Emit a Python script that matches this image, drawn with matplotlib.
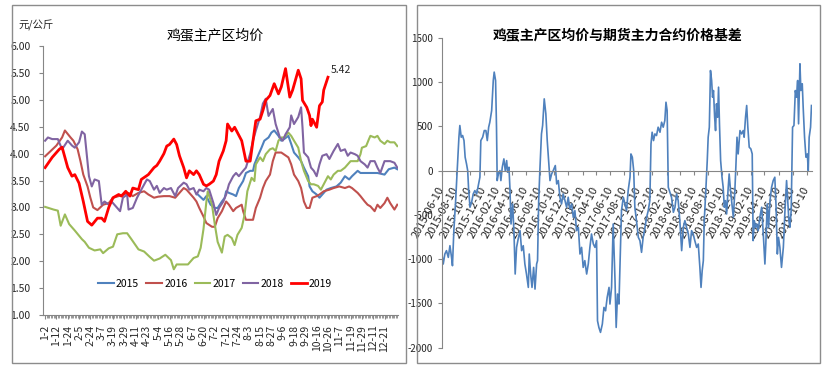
#!/usr/bin/env python3
"""
鸡蛋主产区均价 / 期现基差 两图
"""
import matplotlib
matplotlib.use("Agg")
import matplotlib.pyplot as plt
from matplotlib.patches import Rectangle
import pandas as pd

plt.rcParams['font.family'] = ['Liberation Sans Narrow', 'Noto Sans CJK SC', 'DejaVu Sans']
CJK = ['Noto Sans CJK SC', 'DejaVu Sans']

# ---------------- 左图: 各年份主产区均价 (元/公斤) ----------------
# 横轴为当年第几个交易日
day_labels = ['1-2', '1-12', '1-24', '2-5', '2-24', '3-7', '3-19', '3-29', '4-11',
              '4-23', '5-4', '5-16', '5-28', '6-7', '6-20', '7-2', '7-12', '7-24',
              '8-3', '8-15', '8-27', '9-6', '9-18', '9-29', '10-16', '10-26',
              '11-7', '11-19', '11-29', '12-11', '12-21']

idx_2015 = [108, 112, 114, 117, 120, 122, 125, 127, 128, 130, 133, 135, 137, 140, 142,
            145, 147, 148, 151, 153, 155, 158, 160, 162, 165, 167, 169, 172, 174, 176,
            179, 181, 183, 186, 187, 189, 192, 194, 196, 199, 202, 206, 209, 212, 215,
            217, 221, 223, 227, 230, 235, 240, 243, 247, 249]
val_2015 = [3.24, 3.14, 3.21, 3.05, 2.99, 2.99, 3.11, 3.18, 3.30, 3.27, 3.24, 3.21, 3.36,
            3.49, 3.64, 3.68, 3.68, 3.80, 3.99, 4.11, 4.24, 4.30, 4.39, 4.43, 4.33, 4.24,
            4.27, 4.33, 4.18, 4.02, 3.93, 3.86, 3.74, 3.58, 3.39, 3.30, 3.24, 3.18, 3.24,
            3.33, 3.36, 3.39, 3.46, 3.58, 3.52, 3.58, 3.68, 3.64, 3.64, 3.64, 3.64, 3.61,
            3.71, 3.74, 3.71]

idx_2016 = [0, 4, 8, 12, 14, 18, 20, 23, 25, 27, 30, 32, 34, 37, 39, 41, 45, 48, 52, 55,
            59, 62, 66, 70, 73, 77, 80, 84, 88, 92, 95, 98, 100, 102, 105, 107, 109, 112,
            114, 118, 120, 122, 125, 128, 130, 133, 135, 139, 140, 142, 145, 147, 149, 152,
            154, 156, 159, 161, 163, 167, 172, 174, 176, 179, 181, 183, 185, 187, 189, 192,
            194, 197, 201, 204, 208, 212, 215, 217, 221, 223, 226, 228, 230, 233, 235, 237,
            240, 242, 244, 247, 249]
val_2016 = [3.95, 4.05, 4.15, 4.30, 4.43, 4.30, 4.24, 4.08, 3.86, 3.61, 3.39, 3.18, 3.00,
            2.95, 3.00, 3.05, 3.08, 3.18, 3.21, 3.24, 3.27, 3.21, 3.27, 3.30, 3.24, 3.18,
            3.20, 3.21, 3.21, 3.18, 3.27, 3.36, 3.33, 3.27, 3.18, 3.11, 2.99, 2.83, 2.71,
            2.64, 2.64, 2.80, 2.93, 3.11, 3.05, 2.93, 2.99, 3.05, 2.93, 2.77, 2.77, 2.77,
            2.99, 3.18, 3.36, 3.49, 3.61, 3.86, 4.02, 4.02, 3.93, 3.80, 3.61, 3.49, 3.36,
            3.11, 2.99, 2.99, 3.18, 3.21, 3.24, 3.30, 3.33, 3.36, 3.39, 3.36, 3.39, 3.36,
            3.27, 3.21, 3.11, 3.05, 3.02, 2.93, 3.05, 2.99, 3.08, 3.18, 3.08, 2.96, 3.05]

idx_2017 = [0, 6, 9, 11, 14, 17, 21, 26, 28, 31, 35, 39, 41, 45, 48, 51, 55, 58, 61, 66,
            70, 74, 77, 81, 85, 89, 91, 93, 101, 105, 108, 110, 112, 114, 115, 118, 120,
            122, 125, 127, 129, 132, 134, 136, 139, 141, 143, 146, 148, 149, 152, 154, 156,
            159, 161, 163, 165, 167, 169, 172, 174, 176, 179, 181, 183, 186, 188, 190, 193,
            195, 197, 200, 202, 204, 207, 209, 212, 214, 216, 221, 223, 224, 227, 229, 230,
            233, 235, 237, 240, 242, 244, 247, 249]
val_2017 = [3.01, 2.96, 2.94, 2.66, 2.87, 2.69, 2.57, 2.41, 2.36, 2.25, 2.20, 2.22, 2.15,
            2.24, 2.27, 2.50, 2.52, 2.52, 2.41, 2.22, 2.18, 2.08, 2.01, 2.05, 2.12, 2.02,
            1.85, 1.94, 1.94, 2.06, 2.09, 2.25, 2.60, 3.10, 3.30, 3.05, 2.68, 2.36, 2.16,
            2.46, 2.49, 2.43, 2.30, 2.49, 2.62, 2.86, 3.30, 3.55, 3.49, 3.80, 3.93, 3.86,
            3.99, 4.08, 4.10, 4.05, 4.24, 4.30, 4.30, 4.39, 4.33, 4.24, 4.11, 3.86, 3.68,
            3.49, 3.43, 3.43, 3.40, 3.33, 3.43, 3.58, 3.52, 3.61, 3.68, 3.68, 3.74, 3.80,
            3.86, 3.86, 3.99, 4.11, 4.14, 4.27, 4.33, 4.30, 4.33, 4.24, 4.18, 4.24, 4.21,
            4.21, 4.14]

idx_2018 = [0, 2, 5, 9, 12, 16, 19, 21, 24, 26, 28, 31, 33, 35, 38, 40, 42, 45, 47, 51,
            53, 55, 58, 59, 62, 65, 68, 72, 74, 77, 79, 81, 84, 86, 89, 92, 94, 98, 100,
            102, 105, 107, 109, 112, 114, 116, 119, 121, 123, 126, 128, 130, 133, 135, 137,
            140, 142, 145, 147, 149, 152, 154, 156, 158, 161, 163, 166, 168, 170, 173, 174,
            176, 179, 181, 182, 183, 186, 188, 190, 192, 194, 196, 199, 201, 204, 207, 209,
            212, 214, 216, 219, 221, 223, 226, 228, 230, 233, 235, 237, 240, 244, 247, 249]
val_2018 = [4.24, 4.30, 4.27, 4.27, 4.08, 4.24, 4.15, 4.11, 4.21, 4.41, 4.36, 3.58, 3.39,
            3.52, 3.49, 3.05, 3.11, 3.05, 3.11, 2.99, 2.93, 3.18, 3.24, 2.96, 2.99, 3.18,
            3.33, 3.52, 3.49, 3.33, 3.40, 3.27, 3.36, 3.33, 3.36, 3.21, 3.36, 3.46, 3.43,
            3.33, 3.36, 3.24, 3.33, 3.30, 3.36, 3.33, 3.08, 2.86, 2.99, 3.11, 3.24, 3.43,
            3.58, 3.64, 3.58, 3.68, 3.74, 4.00, 4.24, 4.43, 4.68, 4.93, 5.02, 4.70, 4.83,
            4.55, 4.30, 4.24, 4.36, 4.49, 4.71, 4.55, 4.68, 4.86, 4.49, 4.02, 3.93, 3.74,
            3.68, 3.58, 3.80, 3.96, 3.99, 3.90, 4.05, 4.18, 4.05, 4.08, 3.96, 4.02, 3.99,
            3.96, 3.86, 3.80, 3.74, 3.86, 3.86, 3.74, 3.64, 3.86, 3.86, 3.83, 3.74]

idx_2019 = [0, 5, 10, 12, 16, 19, 21, 24, 27, 30, 33, 37, 40, 42, 45, 48, 52, 54, 57, 60,
            62, 66, 68, 73, 77, 79, 81, 84, 86, 88, 91, 93, 95, 98, 100, 102, 105, 107, 109,
            112, 114, 116, 119, 121, 123, 126, 128, 129, 132, 134, 136, 139, 141, 142, 145,
            147, 149, 152, 154, 156, 159, 162, 165, 167, 170, 173, 175, 179, 181, 182, 185,
            187, 188, 189, 192, 194, 196, 197, 200]
val_2019 = [3.74, 3.93, 4.08, 4.12, 3.74, 3.58, 3.61, 3.45, 3.11, 2.74, 2.67, 2.80, 2.80,
            2.74, 3.00, 3.18, 3.24, 3.21, 3.30, 3.21, 3.36, 3.33, 3.52, 3.61, 3.74, 3.78,
            3.86, 4.00, 4.14, 4.17, 4.27, 4.17, 3.96, 3.74, 3.55, 3.68, 3.61, 3.68, 3.61,
            3.43, 3.40, 3.43, 3.49, 3.61, 3.86, 4.05, 4.24, 4.55, 4.42, 4.49, 4.39, 4.24,
            3.99, 3.86, 3.86, 4.24, 4.61, 4.64, 4.80, 4.99, 5.08, 5.30, 5.11, 5.24, 5.58,
            5.05, 5.18, 5.55, 5.39, 4.99, 4.86, 4.71, 4.52, 4.64, 4.49, 4.89, 4.96, 5.18,
            5.42]

years = ['2015', '2016', '2017', '2018', '2019']
year_colors = ['#4F81BD', '#C0504D', '#9BBB59', '#8064A2', '#FF0000']

# ---------------- 右图: 主产区均价与期货主力合约基差 ----------------
basis_start = '2015-06-10'
# 距起始日的天数
basis_day = [0, 7, 14, 21, 29, 36, 43, 47, 53, 60, 68, 75, 79, 85, 91, 97, 102, 108, 113,
             117, 123, 130, 137, 144, 152, 159, 166, 170, 178, 185, 192, 198, 204, 209, 217,
             224, 228, 234, 238, 241, 246, 253, 257, 263, 270, 276, 282, 286, 292, 296, 301,
             308, 314, 319, 325, 332, 340, 347, 354, 361, 368, 376, 380, 386, 392, 399, 405,
             412, 416, 421, 426, 433, 438, 445, 452, 458, 464, 470, 477, 484, 493, 499, 506,
             513, 520, 527, 535, 542, 549, 556, 564, 571, 578, 585, 593, 600, 607, 614, 621,
             629, 636, 643, 650, 658, 665, 672, 676, 682, 689, 697, 704, 711, 718, 726, 730,
             737, 744, 752, 757, 763, 769, 775, 780, 788, 795, 802, 809, 817, 821, 827, 833,
             838, 845, 853, 860, 867, 874, 882, 889, 896, 903, 908, 913, 919, 925, 932, 939,
             947, 954, 961, 968, 973, 978, 983, 990, 997, 1005, 1012, 1019, 1026, 1033, 1041,
             1048, 1055, 1062, 1070, 1077, 1084, 1091, 1098, 1106, 1113, 1120, 1125, 1130,
             1135, 1139, 1145, 1152, 1156, 1161, 1166, 1171, 1175, 1179, 1184, 1188, 1192,
             1197, 1201, 1205, 1210, 1216, 1221, 1226, 1231, 1236, 1242, 1247, 1253, 1259,
             1265, 1271, 1276, 1281, 1286, 1294, 1301, 1308, 1312, 1318, 1323, 1328, 1334,
             1341, 1347, 1351, 1356, 1362, 1367, 1373, 1380, 1388, 1395, 1402, 1406, 1412,
             1418, 1424, 1431, 1438, 1445, 1450, 1456, 1461, 1467, 1474, 1482, 1489, 1496,
             1500, 1506, 1510, 1516, 1522, 1528, 1534, 1539, 1544, 1548, 1554, 1558, 1564,
             1568, 1574, 1580, 1586, 1590, 1594, 1600, 1604]
basis_val = [-923, -1055, -942, -904, -980, -848, -980, -1074, -678, -377, 38, 377, 509, 377,
             396, 339, 151, 75, 0, -207, -414, -358, -264, -226, -264, -170, -75, 339, 377,
             452, 452, 339, 490, 546, 678, 1017, 1112, 1017, 490, -113, -38, 0, -113, 38, 132,
             0, 113, -19, 38, -188, -603, -377, -716, -1168, -867, -772, -678, -904, -848,
             -1055, -1168, -1319, -942, -1168, -1319, -1093, -1338, -1055, -1017, -339, 0,
             414, 509, 810, 641, 339, 113, -113, -38, 0, 57, -151, -113, -301, -377, -264,
             -339, -414, -301, -433, -377, -528, -452, -678, -641, -942, -867, -1093, -1017,
             -1168, -1055, -867, -716, -829, -867, -791, -1696, -1771, -1827, -1733, -1545,
             -1583, -1432, -1319, -1507, -1319, -603, -1243, -1771, -1394, -1507, -942, -452,
             -301, -377, -452, -226, -75, 188, 151, 0, -414, -565, -754, -791, -923, -754,
             -641, -528, -452, -339, 301, 433, 339, 414, 396, 490, 433, 546, 490, 565, 772,
             678, -188, -245, -301, -471, -414, -264, -339, -565, -904, -641, -565, -641,
             -716, -867, -678, -716, -791, -867, -829, -1093, -1319, -1130, -1017, -565, -264,
             113, 377, 490, 1130, 1017, 829, 904, 603, 452, 754, 603, 942, 528, 113, -75, -188,
             -414, -339, -490, -226, -38, -226, -377, -528, -264, 38, 377, 188, 452, 414, 452,
             377, 603, 735, 490, 264, 245, 188, -791, -565, -641, -603, -678, -528, -414, -716,
             -1055, -829, -377, -641, -339, -188, -113, -75, -377, -942, -754, -867, -1093,
             -867, -452, -113, -301, -565, -641, -452, 490, 509, 904, 829, 1017, 528, 1206,
             904, 980, 716, 377, 151, 188, 0, 377, 490, 735]

basis_ticks = ['2015-06-10', '2015-08-10', '2015-10-10', '2015-12-10', '2016-02-10',
               '2016-04-10', '2016-06-10', '2016-08-10', '2016-10-10', '2016-12-10',
               '2017-02-10', '2017-04-10', '2017-06-10', '2017-08-10', '2017-10-10',
               '2017-12-10', '2018-02-10', '2018-04-10', '2018-06-10', '2018-08-10',
               '2018-10-10', '2018-12-10', '2019-02-10', '2019-04-10', '2019-06-10',
               '2019-08-10', '2019-10-10']

AXIS_GREY = '#868686'
TEXT = '#262626'


def draw_price(fig):
    """左图: 五个年份的价格曲线"""
    ax = fig.add_axes([0.0513, 0.1463, 0.4236, 0.729])
    series = [(idx_2015, val_2015), (idx_2016, val_2016), (idx_2017, val_2017),
              (idx_2018, val_2018), (idx_2019, val_2019)]
    for (xs, ys), name, c in zip(series, years, year_colors):
        lw = 2.0 if name == '2019' else 1.5
        ax.plot(xs, ys, color=c, lw=lw, label=name, solid_joinstyle='round')

    # 最新值标注
    ax.annotate(f'{val_2019[-1]:.2f}', xy=(idx_2019[-1], val_2019[-1]),
                xytext=(2, 5), textcoords='offset points', ha='left', va='center',
                fontsize=7.5, color=TEXT)

    ax.set_xlim(-1.5, 249.5)
    ax.set_ylim(1, 6)
    ax.set_yticks([1 + 0.5 * i for i in range(11)])
    ax.set_yticklabels([f'{1 + 0.5 * i:.2f}' for i in range(11)], fontsize=7.5, color=TEXT)
    ax.set_xticks(range(0, 8 * len(day_labels), 8))
    ax.set_xticklabels(day_labels, rotation=90, fontsize=7.5, color=TEXT)
    ax.set_xticks(range(0, 250), minor=True)
    ax.tick_params(axis='x', which='major', length=3, color=AXIS_GREY, pad=4)
    ax.tick_params(axis='x', which='minor', length=2, color=AXIS_GREY, width=0.6)
    ax.tick_params(axis='y', length=3, color=AXIS_GREY, pad=6)
    for s in ['top', 'right']:
        ax.spines[s].set_visible(False)
    for s in ['left', 'bottom']:
        ax.spines[s].set_color(AXIS_GREY)
        ax.spines[s].set_linewidth(0.8)

    ax.legend(loc='center', bbox_to_anchor=(0.485, 0.116), ncol=5, frameon=False,
              fontsize=7.5, handlelength=1.5, handletextpad=0.2, columnspacing=0.7)

    fig.text(0.257, 0.905, '鸡蛋主产区均价', ha='center', va='center',
             fontsize=10, family=CJK, color='black')
    fig.text(0.0215, 0.93, '元/公斤', ha='left', va='center',
             fontsize=7.5, family=CJK, color=TEXT)


def draw_basis(fig):
    """右图: 基差走势"""
    ax = fig.add_axes([0.527, 0.0577, 0.4419, 0.840])
    # 横轴放在 0 处 (先设置, 否则会重置刻度标签样式)
    ax.spines['bottom'].set_position(('data', 0))
    for s in ['top', 'right']:
        ax.spines[s].set_visible(False)
    for s in ['left', 'bottom']:
        ax.spines[s].set_color(AXIS_GREY)
        ax.spines[s].set_linewidth(0.8)

    start = pd.Timestamp(basis_start)
    dates = start + pd.to_timedelta(basis_day, unit='D')
    ax.plot(dates, basis_val, color='#4F81BD', lw=1.2)

    ax.set_xlim(start, start + pd.Timedelta(days=1606))
    ax.set_ylim(-2000, 1500)
    ax.set_yticks(range(-2000, 1501, 500))
    ax.set_yticklabels([str(v) for v in range(-2000, 1501, 500)], fontsize=7, color=TEXT)
    ax.set_xticks(pd.to_datetime(basis_ticks))
    ax.set_xticklabels(basis_ticks, rotation=62, ha='right', va='center',
                       rotation_mode='anchor', fontsize=8, color=TEXT)
    ax.tick_params(axis='x', length=3, color=AXIS_GREY, pad=9)
    ax.tick_params(axis='y', length=3, color=AXIS_GREY, pad=3)

    fig.text(0.7375, 0.905, '鸡蛋主产区均价与期货主力合约价格基差', ha='center',
             va='center', fontsize=10, family=CJK, fontweight='bold', color='black')


def main():
    fig = plt.figure(figsize=(8.38, 3.69), dpi=100)
    fig.patch.set_facecolor('white')

    # 两个面板外框
    for x0, x1 in [(12, 406), (417, 820)]:
        fig.add_artist(Rectangle((x0 / 838, 1 - 363 / 369), (x1 - x0) / 838, 358 / 369,
                                 transform=fig.transFigure, fill=False,
                                 ec='#8c8c8c', lw=1.0))

    draw_price(fig)
    draw_basis(fig)
    fig.savefig('out.png', dpi=100)


if __name__ == '__main__':
    main()
